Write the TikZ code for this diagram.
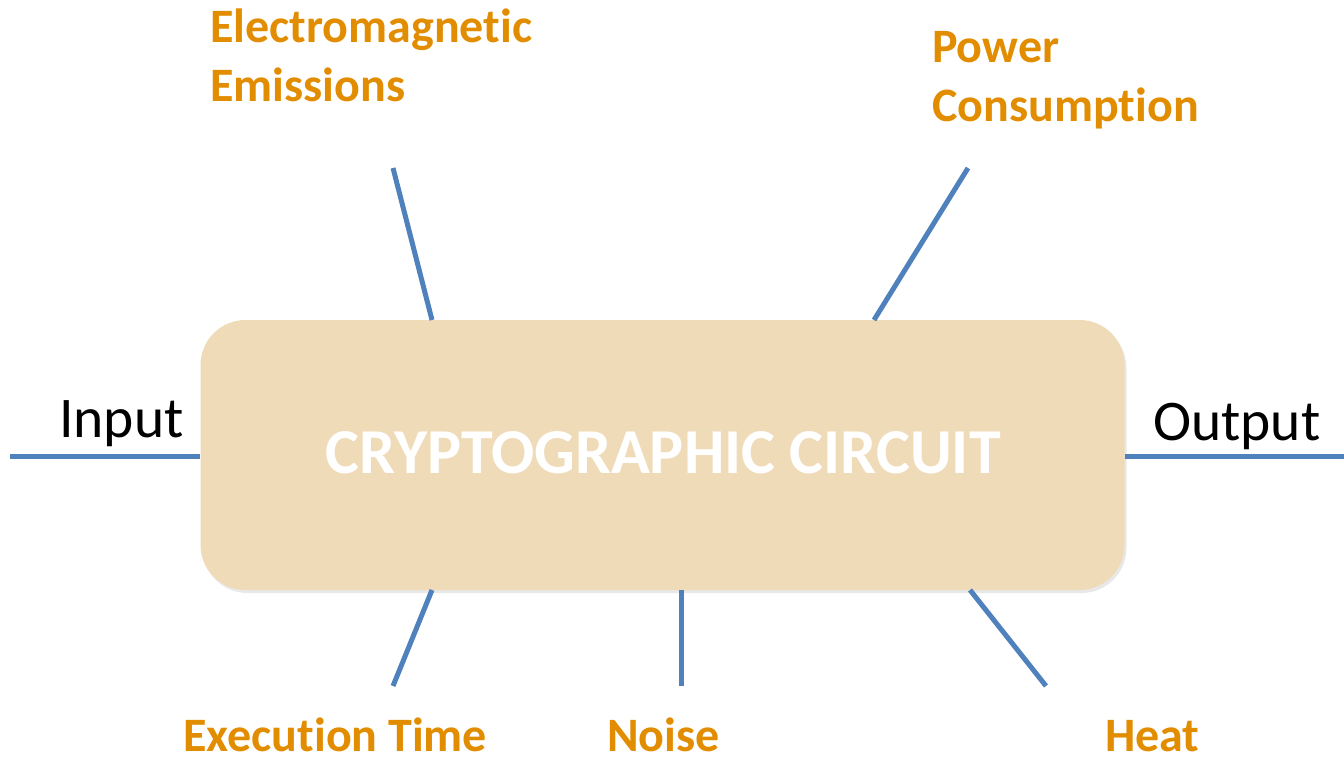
\documentclass[tikz,border=0pt]{standalone}
\usepackage{fontspec}
\setmainfont[Ligatures=NoCommon,RawFeature={-liga;-clig;-dlig}]{Carlito}
\usetikzlibrary{shadows}
\definecolor{boxfill}{RGB}{239,219,184}
\definecolor{linkblue}{RGB}{79,129,189}
\definecolor{labelorange}{RGB}{226,140,0}
\tikzset{
  circuit/.style={draw=none, fill=boxfill, rounded corners=45pt, minimum width=924pt, minimum height=270pt, inner sep=0pt,
    drop shadow={opacity=0.18, shadow xshift=2pt, shadow yshift=-3pt}},
  link/.style={draw=linkblue, line width=5pt},
  channel/.style={text=labelorange, font=\fontsize{48}{58}\selectfont\bfseries, inner sep=0pt, align=left},
  port/.style={text=black, font=\fontsize{57.5}{66}\selectfont, inner sep=0pt},
}
\begin{document}
\begin{tikzpicture}[x=1pt, y=-1pt]
\useasboundingbox (0,0) rectangle (1344,757);
\node[circuit] (box) at (662.5,455) {};
\node[text=white, font=\fontsize{64}{70}\selectfont\bfseries, anchor=base, inner sep=0pt] (title) at (663,473) {CRYPTOGRAPHIC CIRCUIT};
% connector endpoints
\coordinate (emEnd) at (393,168);
\coordinate (emBox) at (432,320);
\coordinate (pwEnd) at (968,168);
\coordinate (pwBox) at (874,320);
\coordinate (inEnd) at (10,456);
\coordinate (outEnd) at (1344,456);
\coordinate (exBox) at (432,590);
\coordinate (exEnd) at (393,686);
\coordinate (noBox) at (681,590);
\coordinate (noEnd) at (681,686);
\coordinate (htBox) at (970,590);
\coordinate (htEnd) at (1046,686);
\draw[link] (emEnd) -- (emBox);
\draw[link] (pwEnd) -- (pwBox);
\draw[link] (inEnd) -- (box.west |- inEnd);
\draw[link] (box.east |- outEnd) -- (outEnd);
\draw[link] (exBox) -- (exEnd);
\draw[link] (noBox) -- (noEnd);
\draw[link] (htBox) -- (htEnd);
% labels
\node[channel, anchor=base west] (em1) at (210,43) {Electromagne\kern0pt tic};
\node[channel, anchor=base west] (em2) at (210,102) {Emissions};
\node[channel, anchor=base west] (pw1) at (932,63) {Power};
\node[channel, anchor=base west] (pw2) at (932,122) {Consump\kern0pt tion};
\node[channel, anchor=base west] (ex) at (183,751) {Execu\kern0pt tion Time};
\node[channel, anchor=base west] (no) at (607,751) {Noise};
\node[channel, anchor=base west] (ht) at (1105,751) {Heat};
\node[port, anchor=base west] (in) at (59,437) {Input};
\node[port, anchor=base west] (out) at (1153,440) {Output};
\end{tikzpicture}
\end{document}
